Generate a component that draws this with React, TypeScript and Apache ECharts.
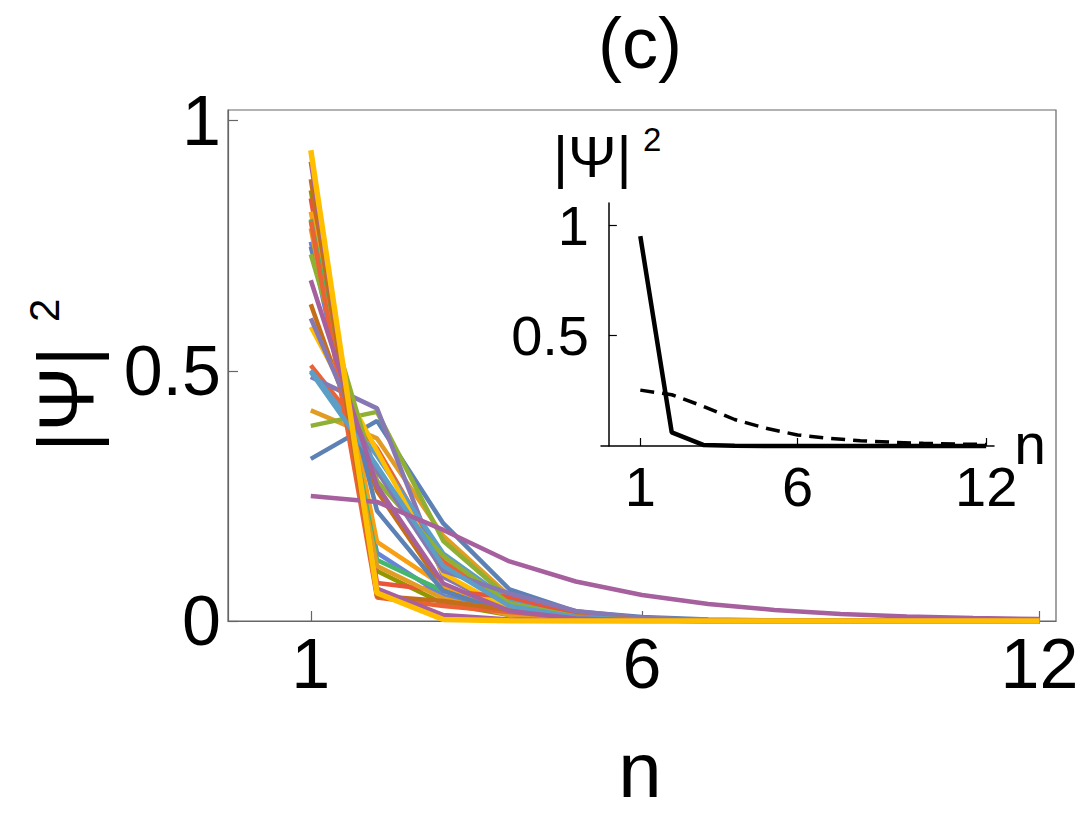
import React, { useEffect, useRef } from "react";
import * as echarts from "echarts";

const nValues = [1, 2, 3, 4, 5, 6, 7, 8, 9, 10, 11, 12];
const mainXTicks = [1, 6, 12];
const mainYTicks = [0, 0.5, 1];
const insetXTicks = [1, 6, 12];
const insetYTicks = [0.5, 1];

const curve01 = [0.324, 0.4, 0.195, 0.063, 0.019, 0.008, 0.003, 0.001, 0.0005, 0, 0, 0];
const curve02 = [0.421, 0.365, 0.17, 0.05, 0.016, 0.005, 0.002, 0.001, 0, 0, 0, 0];
const curve03 = [0.39, 0.418, 0.16, 0.045, 0.012, 0.004, 0.001, 0, 0, 0, 0, 0];
const curve04 = [0.511, 0.345, 0.119, 0.03, 0.008, 0.002, 0.001, 0, 0, 0, 0, 0];
const curve05 = [0.488, 0.425, 0.088, 0.022, 0.006, 0.002, 0, 0, 0, 0, 0, 0];
const curve06 = [0.633, 0.26, 0.065, 0.025, 0.008, 0.003, 0.001, 0, 0, 0, 0, 0];
const curve07 = [0.501, 0.33, 0.135, 0.04, 0.012, 0.004, 0.001, 0, 0, 0, 0, 0];
const curve08 = [0.588, 0.34, 0.095, 0.022, 0.005, 0.001, 0, 0, 0, 0, 0, 0];
const curve09 = [0.861, 0.1, 0.035, 0.012, 0.004, 0.001, 0, 0, 0, 0, 0, 0];
const curve10 = [0.845, 0.076, 0.06, 0.048, 0.015, 0.004, 0.001, 0, 0, 0, 0, 0];
const curve11 = [0.758, 0.136, 0.05, 0.016, 0.005, 0.001, 0, 0, 0, 0, 0, 0];
const curve12 = [0.818, 0.158, 0.07, 0.022, 0.006, 0.002, 0, 0, 0, 0, 0, 0];
const curve13 = [0.803, 0.122, 0.06, 0.016, 0.004, 0.001, 0, 0, 0, 0, 0, 0];
const curve14 = [0.748, 0.22, 0.06, 0.015, 0.004, 0.001, 0, 0, 0, 0, 0, 0];
const curve15 = [0.785, 0.11, 0.045, 0.012, 0.003, 0.001, 0, 0, 0, 0, 0, 0];
const curve16 = [0.733, 0.28, 0.13, 0.035, 0.009, 0.002, 0, 0, 0, 0, 0, 0];
const curve17 = [0.8, 0.047, 0.03, 0.018, 0.006, 0.002, 0, 0, 0, 0, 0, 0];
const curve18 = [0.605, 0.3, 0.1, 0.055, 0.02, 0.006, 0.002, 0, 0, 0, 0, 0];
const curve19 = [0.883, 0.05, 0.04, 0.022, 0.008, 0.003, 0.001, 0, 0, 0, 0, 0];
const curve20 = [0.498, 0.31, 0.11, 0.03, 0.008, 0.002, 0, 0, 0, 0, 0, 0];
const curve21 = [0.681, 0.27, 0.075, 0.02, 0.005, 0.001, 0, 0, 0, 0, 0, 0];
const curve22 = [0.918, 0.065, 0.012, 0.003, 0.001, 0, 0, 0, 0, 0, 0, 0];
const curve23 = [0.25, 0.238, 0.182, 0.119, 0.079, 0.052, 0.034, 0.022, 0.014, 0.009, 0.006, 0.004];
const curve24 = [0.941, 0.056, 0.003, 0.0005, 0, 0, 0, 0, 0, 0, 0, 0];

const mainCurves = [
  curve01, curve02, curve03, curve04, curve05, curve06, curve07, curve08,
  curve09, curve10, curve11, curve12, curve13, curve14, curve15, curve16,
  curve17, curve18, curve19, curve20, curve21, curve22, curve23, curve24,
];
const curveColors = [
  "#5E81B5", "#E19C24", "#8FB032", "#EB6235", "#8778B3", "#C56E1A", "#5D9EC7", "#FFBF00",
  "#929600", "#E95536", "#6685D9", "#F89F13", "#47B66D", "#5E81B5", "#E19C24", "#8FB032",
  "#EB6235", "#8778B3", "#C56E1A", "#5D9EC7", "#A5609D", "#A5609D", "#A5609D", "#FFBF00",
];

const insetSolid = [0.95, 0.062, 0.005, 0.001, 0, 0, 0, 0, 0, 0, 0, 0];
const insetDashed = [0.253, 0.232, 0.18, 0.12, 0.08, 0.05, 0.035, 0.024, 0.017, 0.012, 0.009, 0.007];

const FONT = "'Liberation Sans', Arial, sans-serif";

function toPoints(vals: number[]) {
  return nValues.map((n, i) => [n, vals[i]]);
}

export default function App() {
  const ref = useRef<HTMLDivElement>(null);
  useEffect(() => {
    if (!ref.current) return;
    const chart = echarts.init(ref.current, undefined, { renderer: "svg" });
    const frameColor = "#666";
    const mainSeries = mainCurves.map((c, i) => ({
      type: "line",
      xAxisIndex: 0,
      yAxisIndex: 0,
      data: toPoints(c),
      symbol: "none",
      clip: false,
      lineStyle: { color: curveColors[i], width: i === mainCurves.length - 1 ? 5.5 : 4.5 },
      itemStyle: { color: curveColors[i] },
      z: 2,
    }));
    const option: any = {
      animation: false,
      backgroundColor: "#fff",
      grid: [
        { left: 228, top: 110, width: 828, height: 511, show: true, borderColor: frameColor, borderWidth: 1.2, containLabel: false },
        { left: 601, top: 203, width: 393, height: 243, containLabel: false },
      ],
      xAxis: [
        {
          type: "value", gridIndex: 0, min: -0.25, max: 12.25,
          axisLine: { show: true, onZero: false, lineStyle: { color: frameColor, width: 1.2 } },
          axisTick: { show: true, inside: true, length: 10, customValues: mainXTicks, lineStyle: { color: frameColor, width: 1.2 } },
          axisLabel: { customValues: mainXTicks, fontSize: 70, margin: 8, color: "#000", fontFamily: FONT },
          splitLine: { show: false },
        },
        {
          type: "value", gridIndex: 1, min: -0.25, max: 12.25,
          axisLine: { show: true, onZero: false, lineStyle: { color: "#000", width: 1.5 } },
          axisTick: { show: true, inside: true, length: 8, customValues: insetXTicks, lineStyle: { color: "#000", width: 1.2 } },
          axisLabel: { customValues: insetXTicks, fontSize: 56, margin: 12, color: "#000", fontFamily: FONT },
          splitLine: { show: false },
        },
      ],
      yAxis: [
        {
          type: "value", gridIndex: 0, min: 0, max: 1.0214,
          axisLine: { show: true, onZero: false, lineStyle: { color: frameColor, width: 1.2 } },
          axisTick: { show: true, inside: true, length: 10, customValues: mainYTicks, lineStyle: { color: frameColor, width: 1.2 } },
          axisLabel: { customValues: mainYTicks, fontSize: 70, margin: 7, color: "#000", fontFamily: FONT },
          splitLine: { show: false },
        },
        {
          type: "value", gridIndex: 1, min: 0, max: 1.1,
          axisLine: { show: true, onZero: true, lineStyle: { color: "#000", width: 1.5 } },
          axisTick: { show: true, inside: true, length: 8, customValues: insetYTicks, lineStyle: { color: "#000", width: 1.2 } },
          axisLabel: { customValues: insetYTicks, fontSize: 56, margin: 12, color: "#000", fontFamily: FONT },
          splitLine: { show: false },
        },
      ],
      series: [
        ...mainSeries,
        {
          type: "line", xAxisIndex: 1, yAxisIndex: 1, data: toPoints(insetDashed), symbol: "none", clip: false,
          lineStyle: { color: "#000", width: 3.5, type: [14, 8] }, z: 3,
        },
        {
          type: "line", xAxisIndex: 1, yAxisIndex: 1, data: toPoints(insetSolid), symbol: "none", clip: false,
          lineStyle: { color: "#000", width: 4.5 }, z: 3,
        },
      ],
      graphic: [
        { type: "text", x: 640, y: 43, style: { text: "(c)", fontSize: 72, fontFamily: FONT, fill: "#000", align: "center", verticalAlign: "middle" } },
        { type: "text", x: 640, y: 770, style: { text: "n", fontSize: 78, fontFamily: FONT, fill: "#000", align: "center", verticalAlign: "middle" } },
        {
          type: "group", x: 66, y: 452, rotation: Math.PI / 2,
          children: [
            { type: "text", x: 0, y: 0, style: { text: "|Ψ|", fontSize: 78, fontFamily: FONT, fill: "#000", align: "left", verticalAlign: "middle" } },
            { type: "text", x: 130, y: -22, style: { text: "2", fontSize: 42, fontFamily: FONT, fill: "#000", align: "left", verticalAlign: "middle" } },
          ],
        },
        { type: "text", x: 553, y: 156, style: { text: "|Ψ|", fontSize: 58, fontFamily: FONT, fill: "#000", align: "left", verticalAlign: "middle" } },
        { type: "text", x: 643, y: 139, style: { text: "2", fontSize: 33, fontFamily: FONT, fill: "#000", align: "left", verticalAlign: "middle" } },
        { type: "text", x: 1030, y: 444, style: { text: "n", fontSize: 57, fontFamily: FONT, fill: "#000", align: "center", verticalAlign: "middle" } },
      ],
    };
    chart.setOption(option);
    return () => chart.dispose();
  }, []);
  return <div ref={ref} style={{ position: "fixed", left: 0, top: 0, width: 1083, height: 817 }} />;
}
